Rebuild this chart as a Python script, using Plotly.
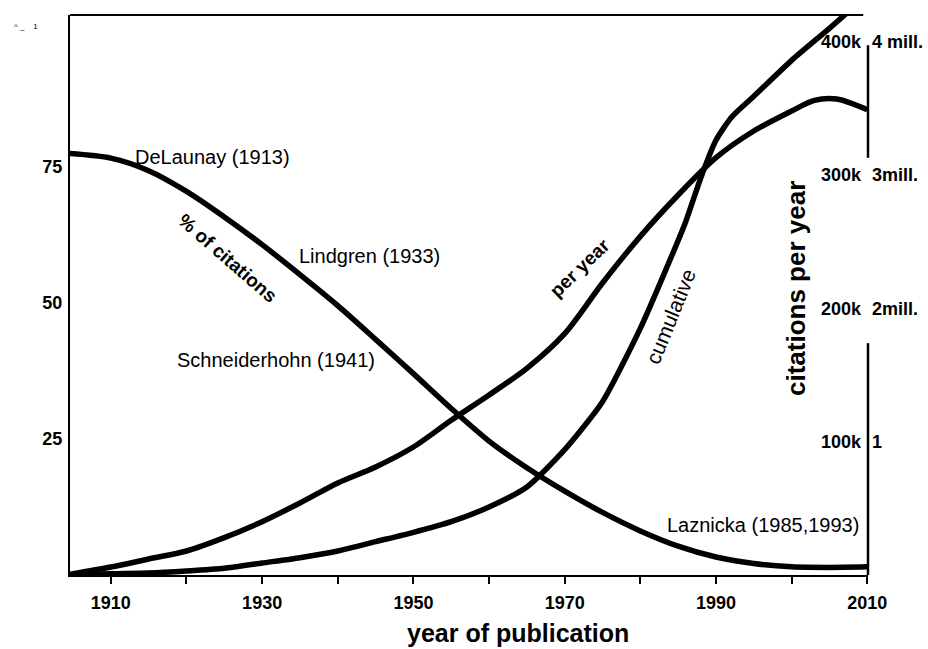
import plotly.graph_objects as go

# ---------------- data ----------------
years_pct = [1904, 1910, 1915, 1920, 1925, 1930, 1935, 1940, 1945, 1950, 1955,
             1960, 1965, 1970, 1975, 1980, 1985, 1990, 1995, 2000, 2005, 2010]
pct_citations = [77.5, 76.6, 74.3, 70.5, 65.8, 60.7, 55.2, 49.5, 43.3, 37.0, 30.6,
                 24.6, 19.7, 15.4, 11.5, 8.1, 5.3, 3.3, 2.1, 1.5, 1.4, 1.5]

years_py = [1904, 1910, 1915, 1920, 1925, 1930, 1935, 1940, 1945, 1950, 1955,
            1960, 1965, 1970, 1975, 1980, 1985, 1990, 1995, 2000, 2003, 2006, 2010]
per_year_k = [0, 6, 12, 18, 28, 40, 54, 69, 81, 96, 116,
              135, 155, 181, 219, 254, 285, 313, 333, 348, 356, 357, 349]

years_cum = [1904, 1910, 1915, 1920, 1925, 1930, 1935, 1940, 1945, 1950, 1955,
             1960, 1965, 1970, 1975, 1980, 1983, 1986, 1988, 1990, 1992, 1995,
             2000, 2005, 2010]
cumulative_mill = [0, 0.01, 0.015, 0.03, 0.05, 0.09, 0.13, 0.18, 0.25, 0.32, 0.40,
                   0.51, 0.66, 0.94, 1.30, 1.85, 2.24, 2.65, 2.98, 3.26, 3.43, 3.59,
                   3.86, 4.10, 4.35]

x_tickvals = [1910, 1920, 1930, 1940, 1950, 1960, 1970, 1980, 1990, 2000, 2010]
x_ticktext = ["1910", "", "1930", "", "1950", "", "1970", "", "1990", "", "2010"]
pct_tickvals = [25, 50, 75]
pct_ticktext = ["25", "50", "75"]
py_tickvals = [100, 200, 300, 400]
py_ticktext = ["100k", "200k", "300k", "400k"]
cum_tickvals = [1, 2, 3, 4]
cum_ticktext = ["1", "2mill.", "3mill.", "4 mill."]

FONT = "Arial, Liberation Sans, Helvetica, sans-serif"
line_style = dict(color="black", width=5.5, shape="spline", smoothing=0.8)
cum_style = dict(color="black", width=5.5, shape="spline", smoothing=0.6)

fig = go.Figure()
fig.add_trace(go.Scatter(x=years_pct, y=pct_citations, mode="lines", yaxis="y",
                         line=line_style, name="% of citations"))
fig.add_trace(go.Scatter(x=years_py, y=per_year_k, mode="lines", yaxis="y2",
                         line=line_style, name="per year"))
fig.add_trace(go.Scatter(x=years_cum, y=cumulative_mill, mode="lines", yaxis="y3",
                         line=cum_style, name="cumulative"))

tick_font = dict(family=FONT, size=18, color="black", weight="bold")

fig.update_layout(
    width=928, height=649,
    margin=dict(l=70, r=60, t=15, b=74),
    paper_bgcolor="white", plot_bgcolor="white",
    showlegend=False,
    font=dict(family=FONT, color="black"),
    xaxis=dict(range=[1904.6, 2010.1], tickvals=x_tickvals, ticktext=x_ticktext,
               ticks="outside", ticklen=7, tickwidth=2, tickcolor="black",
               showline=True, linewidth=2, linecolor="black",
               showgrid=False, zeroline=False, tickfont=tick_font,
               ticklabelstandoff=3, automargin=False),
    yaxis=dict(range=[0, 102.9], tickvals=pct_tickvals, ticktext=pct_ticktext,
               ticks="", showline=True, linewidth=2, linecolor="black",
               showgrid=False, zeroline=False, tickfont=tick_font,
               ticklabelstandoff=2, automargin=False),
    # per-year axis: labels drawn just left of the right-hand axis line
    yaxis2=dict(range=[0, 420], overlaying="y", side="left", anchor="free",
                position=1.0, tickvals=py_tickvals, ticktext=py_ticktext,
                ticks="", showline=False,
                showgrid=False, zeroline=False, tickfont=tick_font,
                ticklabelstandoff=7, automargin=False),
    yaxis3=dict(range=[0, 4.2], overlaying="y", side="right", anchor="x",
                tickvals=cum_tickvals, ticktext=cum_ticktext,
                ticks="", showline=False, showgrid=False, zeroline=False,
                tickfont=tick_font, ticklabelstandoff=3, automargin=False),
)

# borders: top line and the broken right axis line
fig.add_shape(type="line", xref="paper", yref="paper", x0=0, x1=0.994, y0=1, y1=1,
              line=dict(color="black", width=2))
fig.add_shape(type="line", xref="paper", yref="paper", x0=1, x1=1, y0=0.946, y1=0.745,
              line=dict(color="black", width=2.5))
fig.add_shape(type="line", xref="paper", yref="paper", x0=1, x1=1, y0=0.414, y1=0,
              line=dict(color="black", width=2.5))

def ann(text, x, y, size=19, bold=False, angle=0):
    fig.add_annotation(text=text, x=x, y=y, xref="paper", yref="paper",
                       xanchor="center", yanchor="middle", showarrow=False,
                       textangle=angle,
                       font=dict(family=FONT, size=size, color="black",
                                 weight="bold" if bold else "normal"))

ann("DeLaunay (1913)", 0.179, 0.746, 20)
ann("Lindgren (1933)", 0.375, 0.570, 20)
ann("Schneiderhohn (1941)", 0.258, 0.384, 20)
ann("Laznicka (1985,1993)", 0.868, 0.089, 20)
ann("% of citations", 0.198, 0.566, 19, bold=True, angle=41)
ann("per year", 0.639, 0.550, 19, bold=True, angle=-44)
ann("cumulative", 0.753, 0.461, 21, angle=-68)
ann("citations per year", 0.910, 0.511, 26, bold=True, angle=-90)
ann("year of publication", 0.561, -0.1036, 25, bold=True)
ann("^ _    1", -0.055, 0.979, 8)

fig.write_html("out.html",
               config={"displayModeBar": False},
               post_script="document.body.style.margin='0';"
                           "document.body.style.overflow='hidden';")
